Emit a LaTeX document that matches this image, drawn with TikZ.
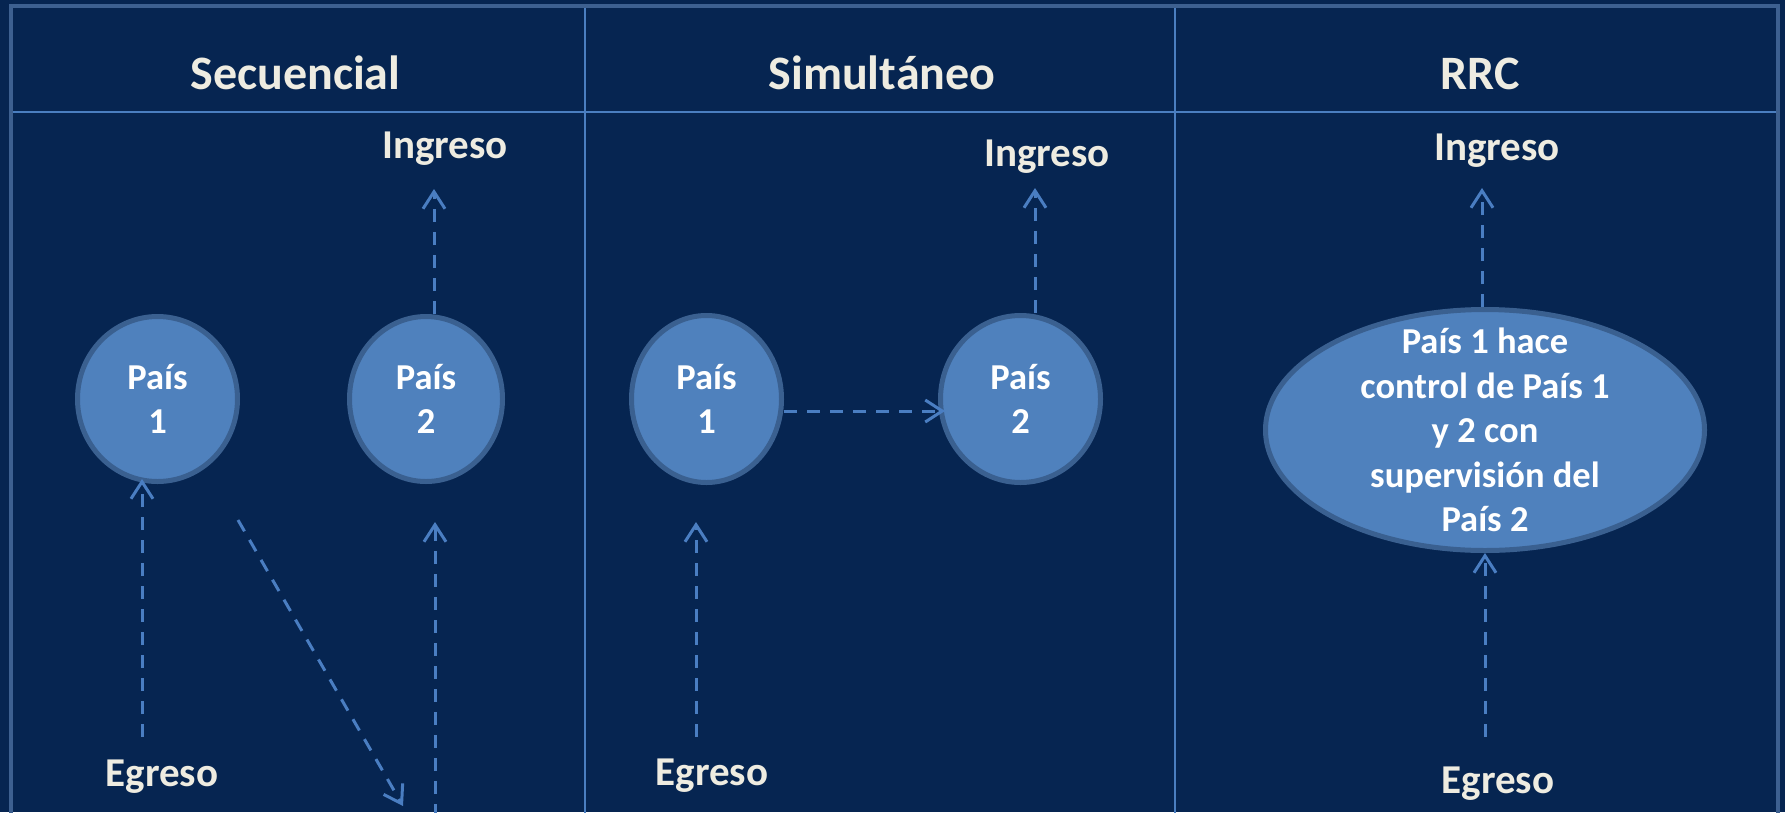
\documentclass[tikz,border=0pt]{standalone}
\usepackage{fontspec}
\setmainfont{Carlito}
\usetikzlibrary{arrows.meta,shapes.geometric,calc}
\definecolor{bg}{HTML}{062551}
\definecolor{framec}{HTML}{3D6090}
\definecolor{gridc}{HTML}{4A7EC0}
\definecolor{efill}{HTML}{4F81BD}
\definecolor{edraw}{HTML}{3A6090}
\definecolor{arrc}{HTML}{4A7EC2}
\definecolor{txt}{HTML}{EEECE1}
\begin{document}
\begin{tikzpicture}[x=1pt,y=-1pt,
  hdr/.style={text=txt,font=\fontsize{48}{58}\selectfont\bfseries,anchor=base,inner sep=0pt},
  lbl/.style={text=txt,font=\fontsize{41}{50}\selectfont\bfseries,anchor=base,inner sep=0pt},
  pais/.style={ellipse,fill=efill,draw=edraw,line width=5pt,inner sep=0pt,text=white,align=center,font=\fontsize{36.5}{44.5}\selectfont\bfseries},
  ptext/.style={text=white,align=center,inner sep=0pt,font=\fontsize{36.5}{44.5}\selectfont\bfseries},
  arr/.style={draw=arrc,line width=3pt,dash pattern=on 13pt off 10pt,-{Straight Barb[length=17pt,width=22pt]}},
  gridline/.style={draw=gridc,line width=2.5pt},
  frameline/.style={draw=framec,line width=4.5pt}]
\useasboundingbox (0,0) rectangle (1785,812);
\begin{scope}
\clip (0,0) rectangle (1785,812);
\fill[bg] (0,0) rectangle (1785,812);
% table lines
\draw[gridline] (585,6) -- (585,830);
\draw[gridline] (1175,6) -- (1175,830);
\draw[gridline] (11,112) -- (1778,112);
\draw[frameline] (11,830) -- (11,6) -- (1778,6) -- (1778,830);
% headers
\node[hdr] (h1) at (295.5,89) {Secuencial};
\node[hdr] (h2) at (882,89) {Simultáneo};
\node[hdr] (h3) at (1480,89) {RRC};
% labels
\node[lbl] (in1) at (445,158) {Ingreso};
\node[lbl] (in2) at (1047,166) {Ingreso};
\node[lbl] (in3) at (1497,160) {Ingreso};
\node[lbl] (eg1) at (162,786) {Egreso};
\node[lbl] (eg2) at (712,785) {Egreso};
\node[lbl] (eg3) at (1498,793) {Egreso};
% ellipses
\node[pais,minimum width=160pt,minimum height=165pt] (a1) at (157.5,399) {País\\1};
\node[pais,minimum width=153pt,minimum height=165pt] (a2) at (426,399) {País\\2};
\node[pais,minimum width=150pt,minimum height=167pt] (b1) at (706.5,399) {País\\1};
\node[pais,minimum width=160pt,minimum height=167pt] (b2) at (1020.5,399) {País\\2};
\node[pais,minimum width=439pt,minimum height=241pt] (c) at (1485,430) {};
\node[ptext] (ct) at (c.center) {País 1 hace\\control de País 1\\y 2 con\\supervisión del\\País 2};
% column 1 connectors
\coordinate (a1s) at (142,737);
\draw[arr] (a1s) -- ($(a1s |- a1.south)+(0,-5)$);
\coordinate (i1) at (434,189);
\draw[arr] (i1 |- a2.north) -- (i1);
\coordinate (d1) at (238,520);
\coordinate (d2) at (403,806);
\draw[arr] (d1) -- (d2);
\coordinate (v1) at (435,840);
\coordinate (v2) at (435,522);
\draw[arr] (v1) -- (v2);
% column 2 connectors
\coordinate (b1s) at (696,737);
\coordinate (b1t) at (696,522);
\draw[arr] (b1s) -- (b1t);
\draw[arr] ($(b1.east)+(0,12)$) -- ($(b2.west)+(7,12)$);
\coordinate (i2) at (1035,188);
\draw[arr] (i2 |- b2.north) -- (i2);
% column 3 connectors
\coordinate (i3) at (1482,188);
\draw[arr] (i3 |- c.north) -- (i3);
\coordinate (c3s) at (1485,737);
\draw[arr] (c3s) -- (c.south);
\end{scope}
\end{tikzpicture}
\end{document}
